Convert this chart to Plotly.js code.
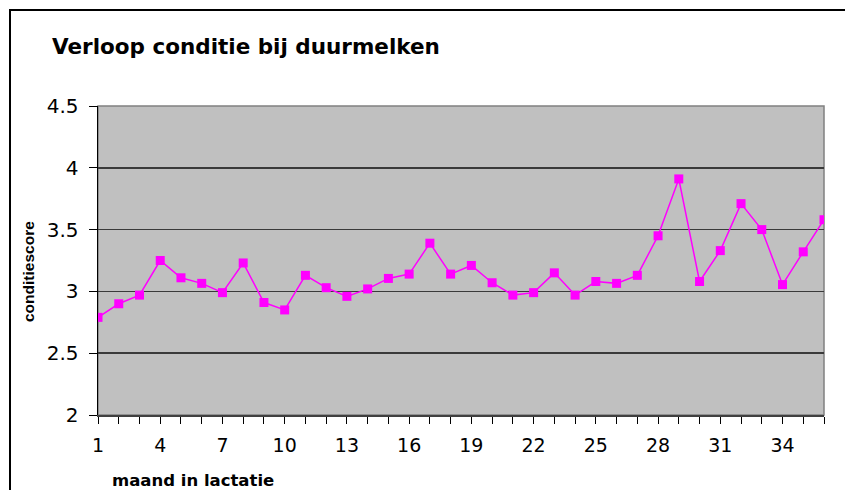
<!DOCTYPE html>
<html>
<head>
<meta charset="utf-8">
<script src="https://cdn.plot.ly/plotly-3.0.1.min.js"></script>
<style>
  html, body { margin: 0; padding: 0; background: #fff; }
  #wrap { position: relative; width: 845px; height: 490px; overflow: hidden; }
  #chart { position: absolute; left: 0; top: 0; width: 845px; height: 490px; }
  #frame { position: absolute; left: 9px; top: 9px; width: 900px; height: 600px;
           border-left: 2px solid #000; border-top: 2px solid #000; pointer-events: none; }
</style>
</head>
<body>
<div id="wrap">
  <div id="chart"></div>
  <div id="frame"></div>
</div>
<script>
const months = [];
for (let m = 1; m <= 36; m++) months.push(m);
const scores = [2.79, 2.90, 2.97, 3.25, 3.11, 3.065, 2.99, 3.23, 2.91, 2.85,
                3.13, 3.03, 2.96, 3.02, 3.105, 3.14, 3.39, 3.14, 3.21, 3.07,
                2.97, 2.99, 3.15, 2.97, 3.08, 3.065, 3.13, 3.45, 3.91, 3.08,
                3.33, 3.71, 3.50, 3.055, 3.32, 3.58];
const tickLabels = months.map(m => ((m - 1) % 3 === 0 && m <= 34) ? String(m) : '');
const yTicks = [2, 2.5, 3, 3.5, 4, 4.5];
const yTickText = ['2', '2.5', '3', '3.5', '4', '4.5'];

const trace = {
  x: months,
  y: scores,
  type: 'scatter',
  mode: 'lines+markers',
  line: { color: '#FF00FF', width: 1.5 },
  marker: { symbol: 'square', size: 9, color: '#FF00FF' },
  hoverinfo: 'x+y'
};

const layout = {
  width: 845, height: 490,
  margin: { l: 98, r: 21, t: 106, b: 75 },
  paper_bgcolor: '#ffffff',
  plot_bgcolor: '#C0C0C0',
  showlegend: false,
  title: {
    text: 'Verloop conditie bij duurmelken',
    font: { family: 'DejaVu Sans', size: 21.5, color: '#000', weight: 'bold' },
    xref: 'container', yref: 'container',
    x: 52 / 845, xanchor: 'left',
    y: 1 - 46 / 490, yanchor: 'middle'
  },
  xaxis: {
    range: [1, 36],
    tickmode: 'array',
    tickvals: months,
    ticktext: tickLabels,
    ticks: 'outside', ticklen: 7, tickwidth: 1, tickcolor: '#000',
    ticklabelstandoff: 6,
    showgrid: false, zeroline: false,
    showline: true, linecolor: '#404040', linewidth: 1.5,
    tickfont: { family: 'DejaVu Sans', size: 19, color: '#000' },
    fixedrange: true
  },
  yaxis: {
    range: [2, 4.5],
    tickmode: 'array',
    tickvals: yTicks,
    ticktext: yTickText,
    ticks: 'outside', ticklen: 8, tickwidth: 1, tickcolor: '#000',
    ticklabelstandoff: 6,
    showgrid: true, gridcolor: '#3a3a3a', gridwidth: 1.6,
    zeroline: false,
    showline: true, linecolor: '#000', linewidth: 1.5,
    tickfont: { family: 'DejaVu Sans', size: 20, color: '#000' },
    fixedrange: true
  },
  shapes: [
    { type: 'rect', xref: 'paper', yref: 'paper', x0: 0, x1: 1, y0: 0, y1: 1,
      line: { color: '#808080', width: 1.5 }, layer: 'below' }
  ],
  annotations: [
    { text: 'conditiescore', xref: 'paper', yref: 'paper',
      x: -70 / 726, y: (415 - 272) / 309, xanchor: 'center', yanchor: 'middle',
      textangle: -90, showarrow: false,
      font: { family: 'Liberation Sans', size: 15.5, color: '#000', weight: 'bold' } },
    { text: 'maand in lactatie', xref: 'paper', yref: 'paper',
      x: (110 - 98) / 726, y: -(480 - 415) / 309, xanchor: 'left', yanchor: 'middle',
      showarrow: false,
      font: { family: 'DejaVu Sans', size: 16.5, color: '#000', weight: 'bold' } }
  ]
};

Plotly.newPlot('chart', [trace], layout, { displayModeBar: false, staticPlot: true });
</script>
</body>
</html>
